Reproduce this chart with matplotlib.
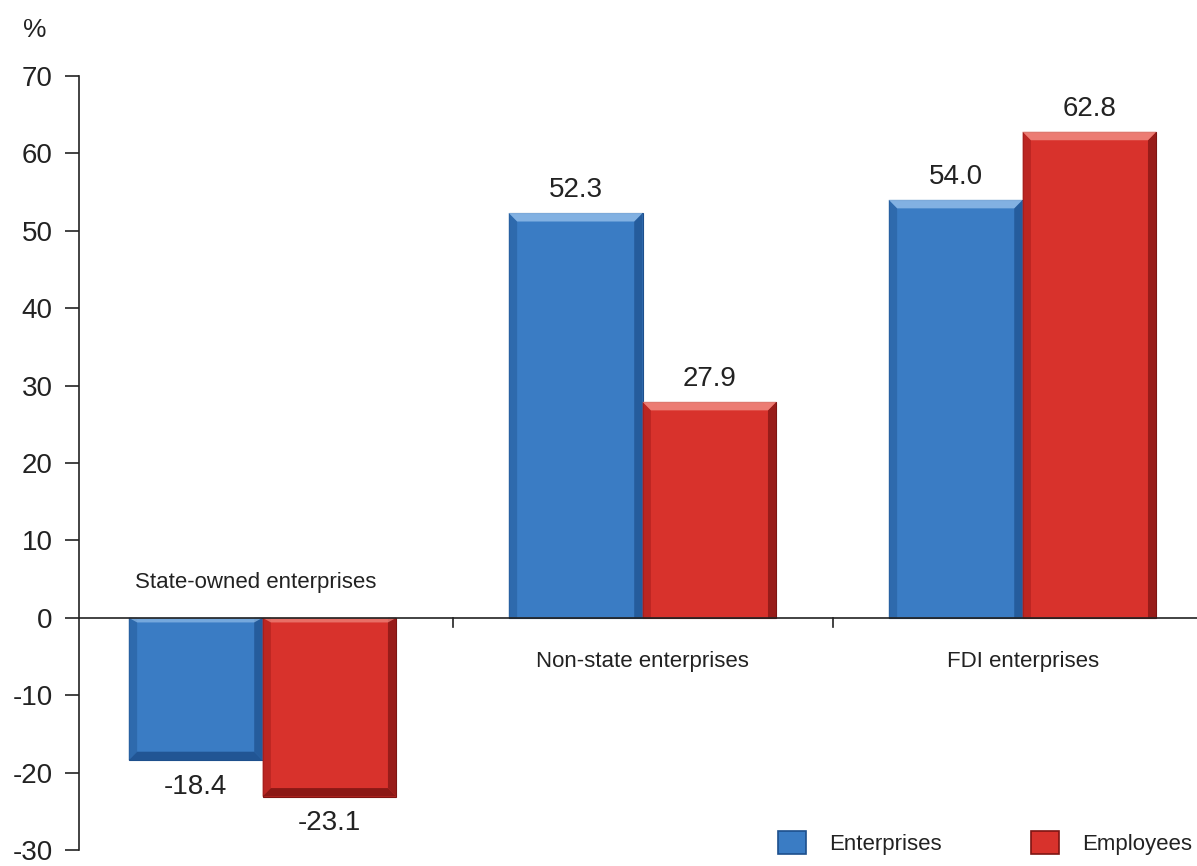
import matplotlib
matplotlib.use("Agg")
import matplotlib.pyplot as plt
from matplotlib.patches import Polygon, Rectangle
import numpy as np

categories = ["State-owned enterprises", "Non-state enterprises", "FDI enterprises"]
series_names = ["Enterprises", "Employees"]
enterprises = [-18.4, 52.3, 54.0]
employees = [-23.1, 27.9, 62.8]
yticks = [-30, -20, -10, 0, 10, 20, 30, 40, 50, 60, 70]

plt.rcParams["font.family"] = ["Liberation Sans", "DejaVu Sans"]
INK = "#222222"

BLUE = {"face": "#3a7cc4", "light": "#8fbbe8", "dark": "#1d4f8c", "side": "#2c66a8"}
RED = {"face": "#d8322c", "light": "#f08a80", "dark": "#7e1412", "side": "#b52320"}

W, H = 1197, 866
fig = plt.figure(figsize=(W / 100, H / 100), dpi=100)
ax = fig.add_axes([79 / W, (H - 850) / H, 1118 / W, 774 / H])
ax.set_xlim(-0.483, 2.459)
ax.set_ylim(-30, 70)

width = 0.352
x = np.arange(len(categories))


def bevel_bar(ax, xc, h, pal):
    """Bar with a beveled, lit look: light rim at the open end, shaded sides."""
    x0, x1 = xc - width / 2, xc + width / 2
    ax.bar(xc, h, width=width, color=pal["face"], edgecolor=pal["dark"],
           linewidth=0.8, zorder=2)
    bx = 0.022
    by = 1.1 * np.sign(h)
    top, base = h, 0
    ax.add_patch(Polygon([(x0, base), (x0 + bx, base), (x0 + bx, top - by), (x0, top)],
                         closed=True, facecolor=pal["side"], edgecolor="none", zorder=3, alpha=0.8))
    ax.add_patch(Polygon([(x1, base), (x1 - bx, base), (x1 - bx, top - by), (x1, top)],
                         closed=True, facecolor=pal["dark"], edgecolor="none", zorder=3, alpha=0.7))
    ax.add_patch(Polygon([(x0, top), (x1, top), (x1 - bx, top - by), (x0 + bx, top - by)],
                         closed=True, facecolor=pal["light"] if h > 0 else pal["dark"],
                         edgecolor="none", zorder=3, alpha=0.85))
    if h < 0:
        ax.add_patch(Polygon([(x0, base), (x1, base), (x1 - bx, base - 0.6), (x0 + bx, base - 0.6)],
                             closed=True, facecolor=pal["light"], edgecolor="none", zorder=3, alpha=0.7))


for xi, v in zip(x, enterprises):
    bevel_bar(ax, xi - width / 2, v, BLUE)
for xi, v in zip(x, employees):
    bevel_bar(ax, xi + width / 2, v, RED)

# value labels
for offset, vals in ((-width / 2, enterprises), (width / 2, employees)):
    for xi, v in zip(x, vals):
        if v >= 0:
            ax.annotate(f"{v:.1f}", (xi + offset, v), xytext=(0, 7), textcoords="offset points",
                        ha="center", va="bottom", fontsize=20, color=INK)
        else:
            ax.annotate(f"{v:.1f}", (xi + offset, v), xytext=(0, -10), textcoords="offset points",
                        ha="center", va="top", fontsize=20, color=INK)

# category names sit on the opposite side of the zero line from their bars
for xi, name, a, b in zip(x, categories, enterprises, employees):
    if a < 0 and b < 0:
        ax.annotate(name, (xi - 0.018, 0), xytext=(0, 18), textcoords="offset points",
                    ha="center", va="bottom", fontsize=16, color=INK)
    else:
        ax.annotate(name, (xi, 0), xytext=(0, -24), textcoords="offset points",
                    ha="center", va="top", fontsize=16, color=INK)

# axes styling
for s in ("top", "right", "bottom"):
    ax.spines[s].set_visible(False)
ax.spines["left"].set_color(INK)
ax.spines["left"].set_linewidth(1.2)
ax.axhline(0, color=INK, linewidth=1.2, zorder=4)
ax.set_yticks(yticks)
ax.set_yticklabels([str(t) for t in yticks])
ax.tick_params(axis="y", direction="out", length=10, width=1.2, labelsize=20,
               pad=9, colors=INK)
ax.set_xticks([])
for b in (0.5, 1.5):
    ax.plot([b, b], [0, -1.2], color=INK, linewidth=1.2, zorder=4, clip_on=False)

fig.text(35 / W, 1 - 30 / H, "%", fontsize=19, ha="center", va="center", color=INK)

# legend
handles = [Rectangle((0, 0), 1, 1, facecolor=BLUE["face"], edgecolor=BLUE["dark"], linewidth=1.2),
           Rectangle((0, 0), 1, 1, facecolor=RED["face"], edgecolor=RED["dark"], linewidth=1.2)]
leg = fig.legend(handles, series_names, loc="lower right",
                 bbox_to_anchor=(1192 / W, (H - 855) / H), bbox_transform=fig.transFigure,
                 ncol=2, frameon=False, borderpad=0, borderaxespad=0,
                 handlelength=1.25, handleheight=1.25,
                 handletextpad=1.05, columnspacing=4.0, prop={"size": 16})
for t in leg.get_texts():
    t.set_color(INK)

fig.savefig("out.png", dpi=100)
